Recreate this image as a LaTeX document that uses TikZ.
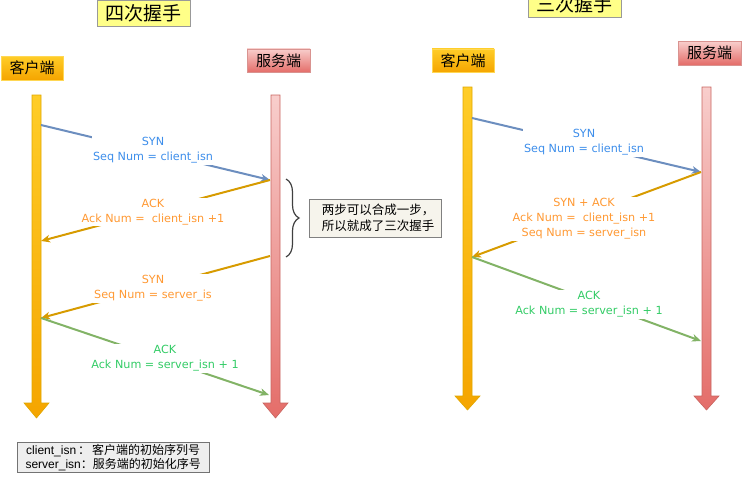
\documentclass[tikz,border=0pt]{standalone}
\usepackage{fontspec}
\setmainfont{DejaVu Sans}
\newfontfamily\cjkfont{Noto Sans CJK SC}
\newfontfamily\arialfont{Liberation Sans}
\usetikzlibrary{arrows.meta,decorations.pathreplacing}

\definecolor{synblue}{HTML}{6C8EBF}
\definecolor{ackgold}{HTML}{D79B00}
\definecolor{ackgreen}{HTML}{82B366}
\definecolor{txtblue}{HTML}{3D8EEB}
\definecolor{txtorange}{HTML}{FF9933}
\definecolor{txtgreen}{HTML}{33CC66}
\definecolor{cliTop}{HTML}{FFCD28}
\definecolor{cliBot}{HTML}{F5A500}
\definecolor{cliLine}{HTML}{E0A800}
\definecolor{srvTop}{HTML}{F8CECC}
\definecolor{srvBot}{HTML}{E46D69}
\definecolor{srvLine}{HTML}{C86560}
\definecolor{titleFill}{HTML}{FFFF88}
\definecolor{noteFill}{HTML}{F6F4EC}
\definecolor{legendFill}{HTML}{EEEEEE}

\tikzset{
  titlebox/.style={draw=gray!80, line width=1pt, fill=titleFill, inner sep=0pt,
    minimum width=93pt, minimum height=26pt, font=\cjkfont\fontsize{19}{22}\selectfont},
  clientlabel/.style={draw=cliTop!80!white, top color=cliTop, bottom color=cliBot, inner sep=0pt,
    minimum width=62pt, minimum height=23.5pt, font=\cjkfont\fontsize{15}{18}\selectfont},
  serverlabel/.style={draw=srvLine!70!white, top color=srvTop, bottom color=srvBot, inner sep=0pt,
    minimum width=63pt, minimum height=23.5pt, font=\cjkfont\fontsize{15}{18}\selectfont},
  clientbar/.style={top color=cliTop, bottom color=cliBot, draw=cliLine, line width=0.6pt},
  serverbar/.style={top color=srvTop, bottom color=srvBot, draw=srvLine, line width=0.6pt},
  msg/.style={line width=2pt, -{Stealth[length=9pt,width=7.5pt,inset=2.5pt]}},
  msgtext/.style={fill=white, inner sep=1.5pt, align=center,
    font=\fontsize{11.2}{15}\selectfont},
  notebox/.style={draw=gray, fill=noteFill, inner sep=0pt, align=left,
    minimum width=132pt, minimum height=38pt, font=\cjkfont\fontsize{12.5}{16}\selectfont},
  legendbox/.style={draw=gray!90!black, fill=legendFill, inner sep=0pt, align=center,
    minimum width=192pt, minimum height=30pt, font=\fontsize{12}{14}\selectfont},
}

\begin{document}
\begin{tikzpicture}[x=1pt,y=-1pt]
\useasboundingbox (0,0) rectangle (754,479);
\clip (0,0) rectangle (754,479);

% ---------------- four-way handshake ----------------
\node[titlebox] (title4) at (143.5,13) {四次握手};
\node[clientlabel] (cliL) at (32,68) {客户端};
\node[serverlabel] (srvL) at (278.5,60.5) {服务端};

% life lines
\path[clientbar] (32,95) -- (41,95) -- (41,403) -- (49,403) -- (36.5,418) -- (24,403) -- (32,403) -- cycle;
\path[serverbar] (271,95) -- (280,95) -- (280,403) -- (288,403) -- (275.5,418) -- (263,403) -- (271,403) -- cycle;

\coordinate (lc1) at (41,125);
\coordinate (ls1) at (270,180);
\coordinate (lc2) at (41,241);
\coordinate (ls2) at (270,256);
\coordinate (lc3) at (41,318);
\coordinate (ls3) at (269,395);

\draw[msg, synblue] (lc1) -- (ls1);
\node[msgtext, text=txtblue] (lm1) at (153,150.5) {SYN\\Seq Num = client\_isn};

\draw[msg, ackgold] (ls1) -- (lc2);
\node[msgtext, text=txtorange] (lm2) at (153,212) {ACK\\Ack Num = \ client\_isn +1};

\draw[msg, ackgold] (ls2) -- (lc3);
\node[msgtext, text=txtorange] (lm3) at (153,288.5) {SYN\\Seq Num = server\_is};

\draw[msg, ackgreen] (lc3) -- (ls3);
\node[msgtext, text=txtgreen] (lm4) at (165,358.5) {ACK\\Ack Num = server\_isn + 1};

% merge note
\draw[decorate, decoration={brace, amplitude=13pt}, line width=1.2pt, draw=black!75]
  (286,179) -- (286,257);
\node[notebox, anchor=north west] (note) at (309,199)
  {\hspace*{6pt}两步可以合成一步，\\\hspace*{6pt}所以就成了三次握手};

% legend
\node[legendbox, anchor=north west] (legend) at (17,442)
  {\arialfont client\_isn\,{\cjkfont ：}\,{\cjkfont 客户端的初始序列号}\\
   \arialfont server\_isn{\cjkfont ：}{\cjkfont 服务端的初始化序号}};

% ---------------- three-way handshake ----------------
\node[titlebox] (title3) at (574.5,4) {三次握手};
\node[clientlabel] (cliR) at (463,60.5) {客户端};
\node[serverlabel] (srvR) at (709.5,53) {服务端};

\path[clientbar] (463,87) -- (472,87) -- (472,396) -- (480,396) -- (467.5,410) -- (455,396) -- (463,396) -- cycle;
\path[serverbar] (702,87) -- (711,87) -- (711,396) -- (719,396) -- (706.5,410) -- (694,396) -- (702,396) -- cycle;

\coordinate (rc1) at (472,118);
\coordinate (rs1) at (701,172);
\coordinate (rc2) at (472,257);
\coordinate (rs2) at (701,341);

\draw[msg, synblue] (rc1) -- (rs1);
\node[msgtext, text=txtblue] (rm1) at (584,142.5) {SYN\\Seq Num = client\_isn};

\draw[msg, ackgold] (rs1) -- (rc2);
\node[msgtext, text=txtorange] (rm2) at (584,219) {SYN + ACK\\Ack Num = \ client\_isn +1\\Seq Num = server\_isn};

\draw[msg, ackgreen] (rc2) -- (rs2);
\node[msgtext, text=txtgreen] (rm3) at (589,304.5) {ACK\\Ack Num = server\_isn + 1};
\end{tikzpicture}
\end{document}
